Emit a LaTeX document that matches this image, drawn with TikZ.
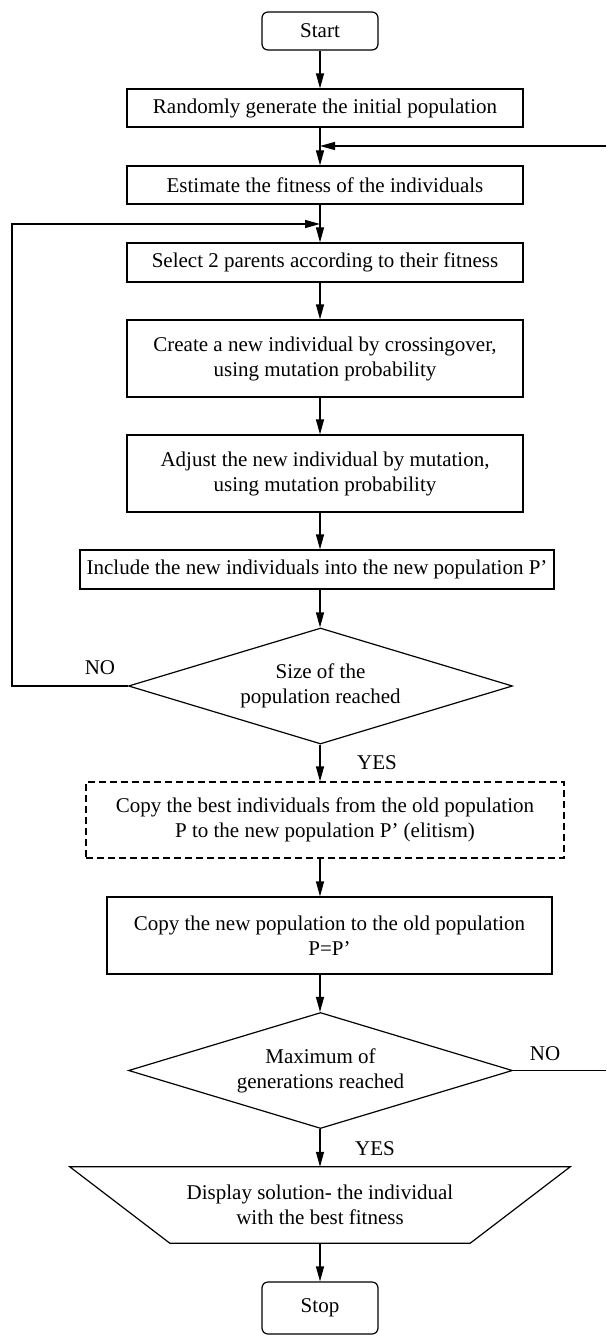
\documentclass[tikz,border=0pt]{standalone}
\usepackage{fontspec}
\setmainfont{Liberation Serif}
\usetikzlibrary{arrows.meta,shapes.geometric}

\tikzset{
  line/.style={line width=1.2pt},
  arr/.style={line, -{Triangle[length=15pt,width=8pt]}},
  box/.style={draw, line, align=center, inner sep=0pt, minimum width=396pt, minimum height=38pt},
  dbox/.style={box, dash pattern=on 7pt off 4pt},
  term/.style={box, rounded corners=6pt, minimum width=116pt},
  decision/.style={diamond, draw, line, aspect=3.3, inner sep=0pt, align=center,
    minimum width=384pt, minimum height=116pt},
  lbl/.style={inner sep=0pt}
}

\begin{document}
\begin{tikzpicture}[x=1pt, y=-1pt, font=\fontsize{21}{25}\selectfont]
			\useasboundingbox (0,0) rectangle (606,1337);

			% main column
			\node[term] (start) at (320,31) {Start};
			\node[box] (init) at (325,108) {Randomly generate the initial population};
			\node[box] (fitness) at (325,185) {Estimate the fitness of the individuals};
			\node[box, minimum height=39pt] (select) at (325,262.5) {Select 2 parents according to their fitness};
			\node[box, minimum height=77pt] (cross) at (325,358.5) {Create a new individual by crossingover,\\using mutation probability};
			\node[box, minimum height=77pt] (mutate) at (325,473.5) {Adjust the new individual by mutation,\\using mutation probability};
			\node[box, minimum width=474pt, minimum height=39pt] (include) at (317,569.5) {Include the new individuals into the new population P’};
			\node[decision] (sizeq) at (320.5,686) {Size of the\\population reached};
			\node[dbox, minimum width=478pt, minimum height=76pt] (elite) at (325,820) {Copy the best individuals from the old population\\P to the new population P’ (elitism)};
			\node[box, minimum width=445pt, minimum height=77pt] (copy) at (329.5,935.5) {Copy the new population to the old population\\P=P’};
			\node[decision] (genq) at (320.5,1070.5) {Maximum of\\generations reached};
			\node[align=center, inner sep=0pt, minimum width=500pt, minimum height=76pt] (display) at (320,1205) {Display solution- the individual\\with the best fitness};
			\node[term, minimum height=52pt] (stop) at (320,1308) {Stop};

			% output shape
			\draw[line] (display.north west) -- (display.north east) -- ([xshift=-100pt]display.south east)
				-- ([xshift=100pt]display.south west) -- cycle;

			% spine and rails
			\coordinate (spine) at (320,0);
			\coordinate (leftrail) at (12,0);
			\coordinate (rightrail) at (606,0);
			\coordinate (loopin) at (320,224);
			\coordinate (retin) at (320,146);

			% arrows down the column
			\foreach \a/\b in {start/init, init/fitness, fitness/select, select/cross, cross/mutate,
					mutate/include, include/sizeq, sizeq/elite, elite/copy, copy/genq, genq/display, display/stop} {
					\draw[arr] (spine |- \a.south) -- (spine |- \b.north);
				}

			% back loops
			\draw[arr] (sizeq.west) -- (leftrail |- sizeq.west) -- (leftrail |- loopin) -- (loopin);
			\draw[line] (genq.east) -- (rightrail |- genq.east);
			\draw[arr] (rightrail |- retin) -- (retin);

			% labels
			\node[lbl] (no1) at (100,668) {NO};
			\node[lbl] (yes1) at (377,763) {YES};
			\node[lbl] (no2) at (545,1054) {NO};
			\node[lbl] (yes2) at (375,1149) {YES};
		\end{tikzpicture}
\end{document}
